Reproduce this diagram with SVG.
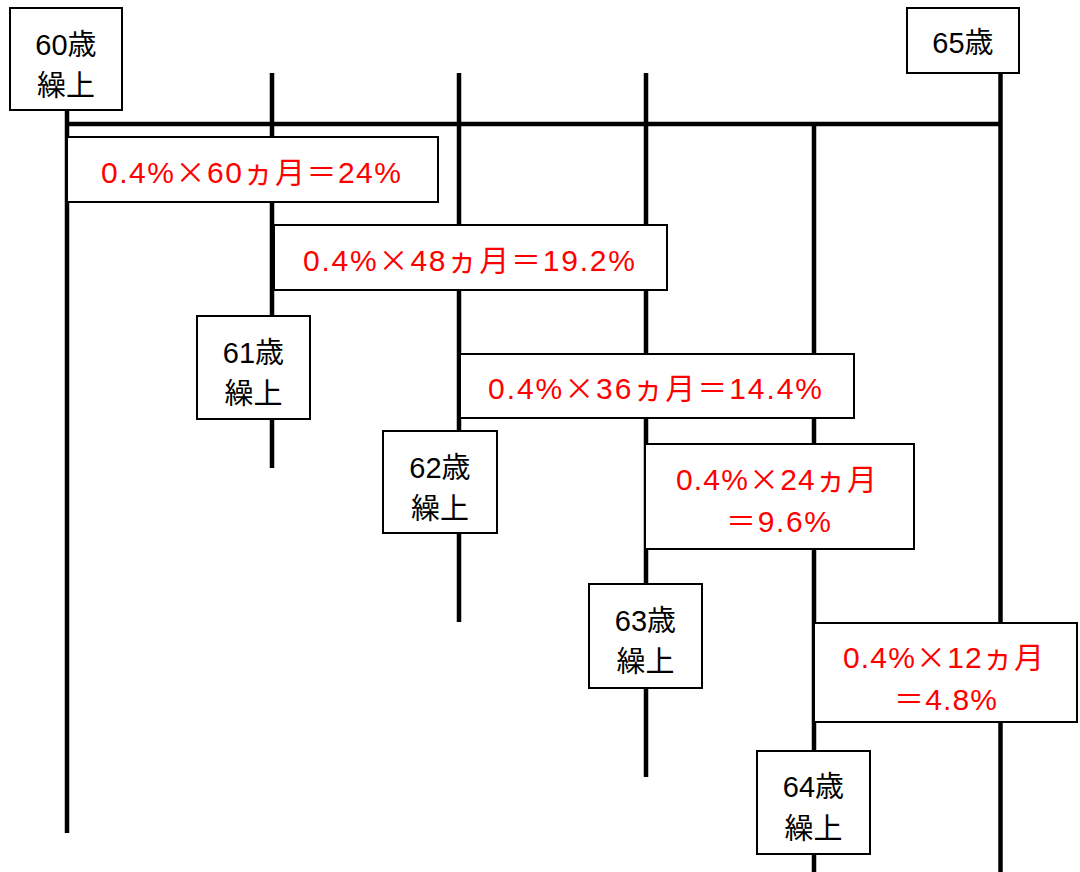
<svg xmlns="http://www.w3.org/2000/svg" width="1080" height="872" viewBox="0 0 1080 872">
<style>
.ln{stroke:#000;stroke-width:4.5;fill:none}
.bx{fill:#fff;stroke:#000;stroke-width:2}
.bk{font-family:"Liberation Sans","Noto Sans CJK JP",sans-serif;font-size:29px;fill:#000;text-anchor:middle}
.rd{font-family:"Liberation Sans","Noto Sans CJK JP",sans-serif;font-size:30px;fill:#f00;text-anchor:middle}
.cj{font-family:"Noto Sans CJK JP",sans-serif}
</style>
<rect width="1080" height="872" fill="#fff"/>
<g id="connectors">
<line class="ln" x1="67" y1="110" x2="67" y2="833"/>
<line class="ln" x1="272" y1="73" x2="272" y2="468"/>
<line class="ln" x1="459" y1="73" x2="459" y2="622"/>
<line class="ln" x1="646" y1="73" x2="646" y2="777"/>
<line class="ln" x1="814" y1="124" x2="814" y2="872"/>
<line class="ln" x1="1000.5" y1="73" x2="1000.5" y2="872"/>
<line class="ln" x1="65" y1="124" x2="1002" y2="124"/>
</g>
<g id="n60">
<rect class="bx" x="10" y="8" width="112" height="102"/>
<text class="bk" x="66" y="55">60歳</text>
<text class="bk" x="66" y="96">繰上</text>
</g>
<g id="n65">
<rect class="bx" x="907" y="8" width="112" height="65"/>
<text class="bk" x="963" y="53">65歳</text>
</g>
<g id="r60">
<rect class="bx" x="67" y="137" width="371" height="65"/>
<text class="rd" x="251" y="183" textLength="300" lengthAdjust="spacing">0.4%<tspan class="cj">×</tspan>60ヵ月＝24%</text>
</g>
<g id="r48">
<rect class="bx" x="274" y="225" width="393" height="65"/>
<text class="rd" x="469" y="271" textLength="332" lengthAdjust="spacing">0.4%<tspan class="cj">×</tspan>48ヵ月＝19.2%</text>
</g>
<g id="n61">
<rect class="bx" x="197" y="316" width="113" height="103"/>
<text class="bk" x="253.5" y="363">61歳</text>
<text class="bk" x="253.5" y="404">繰上</text>
</g>
<g id="r36">
<rect class="bx" x="460" y="354" width="394" height="64"/>
<text class="rd" x="655" y="399" textLength="334" lengthAdjust="spacing">0.4%<tspan class="cj">×</tspan>36ヵ月＝14.4%</text>
</g>
<g id="n62">
<rect class="bx" x="383" y="431" width="114" height="102"/>
<text class="bk" x="440" y="478">62歳</text>
<text class="bk" x="440" y="519">繰上</text>
</g>
<g id="r24">
<rect class="bx" x="645" y="444" width="269" height="105"/>
<text class="rd" x="776.5" y="490" textLength="201" lengthAdjust="spacing">0.4%<tspan class="cj">×</tspan>24ヵ月</text>
<text class="rd" x="778.5" y="532" textLength="105" lengthAdjust="spacing">＝9.6%</text>
</g>
<g id="n63">
<rect class="bx" x="589" y="584" width="113" height="104"/>
<text class="bk" x="645.5" y="631">63歳</text>
<text class="bk" x="645.5" y="672">繰上</text>
</g>
<g id="r12">
<rect class="bx" x="814" y="623" width="263" height="99"/>
<text class="rd" x="943.5" y="668" textLength="201" lengthAdjust="spacing">0.4%<tspan class="cj">×</tspan>12ヵ月</text>
<text class="rd" x="945.5" y="710" textLength="103" lengthAdjust="spacing">＝4.8%</text>
</g>
<g id="n64">
<rect class="bx" x="757" y="751" width="113" height="103"/>
<text class="bk" x="813.5" y="797">64歳</text>
<text class="bk" x="813.5" y="839">繰上</text>
</g>
</svg>
